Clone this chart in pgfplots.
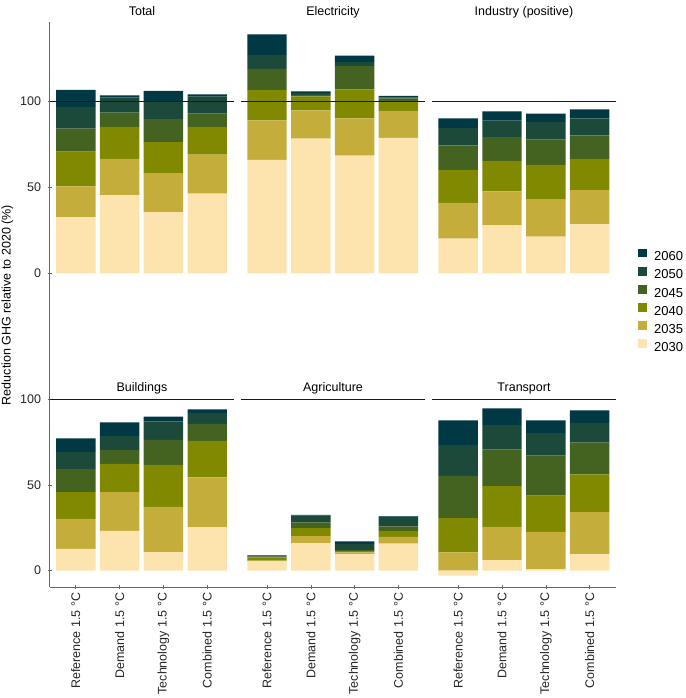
\documentclass[border=0pt]{standalone}
\usepackage{fontspec}
\setmainfont{Liberation Sans}
\usepackage{pgfplots}
\usepackage{pgfplotstable}
\pgfplotsset{compat=1.18}

\definecolor{c2060}{RGB}{0,56,68}
\definecolor{c2050}{RGB}{28,74,58}
\definecolor{c2045}{RGB}{68,98,32}
\definecolor{c2040}{RGB}{128,137,0}
\definecolor{c2035}{RGB}{197,173,60}
\definecolor{c2030}{RGB}{253,227,173}

% columns: a=2030, b=2035, c=2040, d=2045, e=2050, f=2060 (increments)
\pgfplotstableread{
x a b c d e f
1 32.7 17.9 20.1 13.4 12.6 9.9
2 45.5 21.1 18.5 8.3 8.9 1.2
3 35.5 22.4 18.4 13.4 10.3 6.0
4 46.3 22.7 16.2 7.6 9.9 1.3
}\tTotal
\pgfplotstableread{
x a b c d e f
1 66.0 22.9 17.8 12.1 8.1 12.0
2 78.3 16.5 8.1 0.8 1.0 1.1
3 68.4 21.7 16.9 13.5 2.3 3.7
4 78.7 15.8 5.8 1.4 0.6 0.8
}\tElec
\pgfplotstableread{
x a b c d e f
1 20.1 20.8 19.2 14.3 10.1 5.6
2 27.9 19.8 17.6 13.9 9.5 5.5
3 21.3 21.5 20.2 14.7 10.3 4.8
4 28.5 19.9 18.1 13.7 9.9 5.2
}\tInd
\pgfplotstableread{
x a b c d e f
1 12.7 17.5 15.7 13.3 10.2 7.8
2 23.2 22.7 16.4 8.1 8.2 8.0
3 10.9 26.3 24.6 14.5 10.9 2.7
4 25.3 29.2 21.2 9.9 6.4 2.2
}\tBuild
\pgfplotstableread{
x a b c d e f
1 5.5 0.3 2.0 0.4 0.5 0.3
2 16.0 4.2 4.7 3.3 3.9 0.4
3 9.7 1.0 0.8 0.5 3.6 1.5
4 15.8 3.9 3.5 2.7 5.6 0.4
}\tAgri
\pgfplotstableread{
x a b c d e f
1 -2.9 10.7 19.9 24.7 18.0 14.4
2 6.2 19.3 23.9 21.2 14.4 9.7
3 0.8 21.8 21.2 23.3 13.2 7.4
4 9.7 24.5 22.0 18.5 11.6 7.3
}\tTrans

\newcommand{\stackbars}[1]{%
  \addplot[fill=c2030] table[x=x, y expr={max(\thisrow{a},0)}] {#1};
  \addplot[fill=c2035] table[x=x, y=b] {#1};
  \addplot[fill=c2040] table[x=x, y=c] {#1};
  \addplot[fill=c2045] table[x=x, y=d] {#1};
  \addplot[fill=c2050] table[x=x, y=e] {#1};
  \addplot[fill=c2060] table[x=x, y=f] {#1};
}

\pgfplotsset{
  panel/.style={
    scale only axis, width=184pt,
    ybar stacked, bar width=0.9,
    xmin=0.4, xmax=4.6, enlargelimits=false, clip=false,
    xtick={1,2,3,4}, ytick={0,50,100},
    tick align=outside, major tick length=4pt,
    tick style={black!60, line width=0.6pt},
    axis line style={black!60, line width=0.6pt, -},
    every outer x axis line/.append style={-},
    every outer y axis line/.append style={-},
    every axis plot/.append style={draw=none},
    every tick label/.append style={font=\fontsize{12.5}{14}\selectfont, text=black!85},
    yticklabel style={xshift=-3pt},
    /pgf/number format/assume math mode=true,
    after end axis/.append code={\draw[black!90, line width=0.9pt] (axis cs:0.4,100) -- (axis cs:4.6,100);},
  },
  toprow/.style={panel, height=268.3pt, ymin=-10, ymax=146},
  botrow/.style={panel, height=296.8pt, ymin=-9.7, ymax=163.5},
  xlabs/.style={
    axis x line=bottom,
    xticklabels={Reference 1.5 °C, Demand 1.5 °C, Technology 1.5 °C, Combined 1.5 °C},
    xticklabel style={rotate=90, anchor=east, font=\fontsize{12.5}{14}\selectfont},
  },
}

\begin{document}
\begin{tikzpicture}
\useasboundingbox (0pt,0pt) rectangle (685pt,-698pt);

% ---------- top row ----------
\begin{axis}[toprow, at={(49.5pt,-290.5pt)}, anchor=south west,
  axis y line=left, axis x line=none, y axis line style={-}]
  \stackbars{\tTotal}
\end{axis}
\begin{axis}[toprow, at={(240.7pt,-290.5pt)}, anchor=south west, hide axis]
  \stackbars{\tElec}
\end{axis}
\begin{axis}[toprow, at={(431.9pt,-290.5pt)}, anchor=south west, hide axis,
  reverse legend,
  legend style={at={(1.118,0.157)}, anchor=north west, draw=none, fill=none,
    inner sep=0pt, row sep=4.4pt, font=\fontsize{13}{15}\selectfont,
    nodes={inner sep=0pt, text height=9pt, text depth=1.5pt},
    /tikz/every odd column/.append style={column sep=7.5pt}},
  legend image code/.code={\fill[#1] (0pt,-0.3pt) rectangle (8.8pt,8.5pt);}]
  \stackbars{\tInd}
  \legend{2030,2035,2040,2045,2050,2060}
\end{axis}

% ---------- bottom row ----------
\begin{axis}[botrow, xlabs, at={(49.5pt,-587.3pt)}, anchor=south west,
  axis y line=left, y axis line style={-},
  x axis line style={-, shorten >=-3.6pt}]
  \stackbars{\tBuild}
\end{axis}
\begin{axis}[botrow, xlabs, at={(240.7pt,-587.3pt)}, anchor=south west,
  axis y line=none,
  x axis line style={-, shorten >=-3.6pt, shorten <=-3.6pt}]
  \stackbars{\tAgri}
\end{axis}
\begin{axis}[botrow, xlabs, at={(431.9pt,-587.3pt)}, anchor=south west,
  axis y line=none,
  x axis line style={-, shorten <=-3.6pt}]
  \stackbars{\tTrans}
\end{axis}
% negative part of Transport 2030
\begin{axis}[scale only axis, width=184pt, height=296.8pt, ymin=-9.7, ymax=163.5,
  xmin=0.4, xmax=4.6, enlargelimits=false, clip=false,
  at={(431.9pt,-587.3pt)}, anchor=south west, hide axis,
  ybar, bar width=0.9]
  \addplot[fill=c2030, draw=none, bar shift=0pt] table[x=x, y expr={min(\thisrow{a},0)}] {\tTrans};
\end{axis}

% ---------- titles ----------
\begin{scope}[every node/.style={font=\fontsize{12.5}{14}\selectfont, anchor=base}]
\node at (142pt,-15.5pt) {Total};
\node at (333pt,-15.5pt) {Electricity};
\node at (524pt,-15.5pt) {Industry (positive)};
\node at (142pt,-391pt) {Buildings};
\node at (333pt,-391pt) {Agriculture};
\node at (524pt,-391pt) {Transport};
\end{scope}
\node[rotate=90, font=\fontsize{12.5}{14}\selectfont] at (7.5pt,-305pt) {Reduction GHG relative to 2020 (\%)};
\end{tikzpicture}
\end{document}
